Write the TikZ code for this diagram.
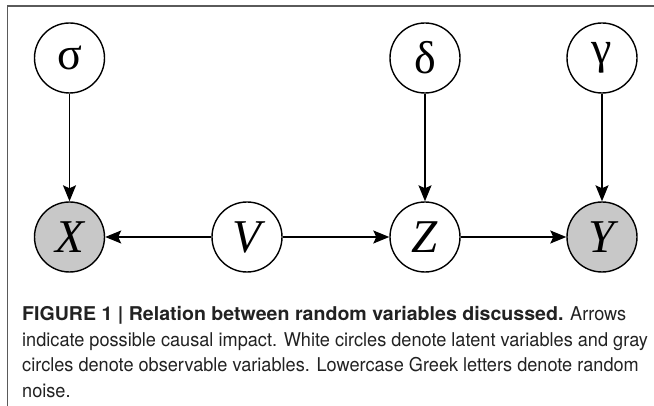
\documentclass[tikz,border=0pt]{standalone}
\usepackage{fontspec}
\setmainfont{Liberation Serif}
\newfontfamily\capfont[FakeStretch=0.955, BoldFeatures={FakeStretch=1.03}]{TeX Gyre Heros}
\usetikzlibrary{arrows.meta}
\definecolor{obsgray}{HTML}{C8C8C8}
\definecolor{framegray}{HTML}{5A5A5A}
\definecolor{captext}{HTML}{222222}
\tikzset{
  var/.style={circle, draw=black, line width=1.4pt, minimum size=70pt, inner sep=0pt, fill=white},
  obs/.style={var, fill=obsgray},
  latin/.style={font=\fontsize{47}{47}\selectfont\itshape},
  greek/.style={font=\fontsize{46}{46}\selectfont},
  edge/.style={line width=1.3pt, -{Stealth[length=16pt, width=13pt, inset=3pt]}},
  capline/.style={anchor=base west, inner sep=0pt, text=captext, font=\capfont\fontsize{19}{19}\selectfont}
}
\begin{document}
\begin{tikzpicture}[x=1pt, y=-1pt]
  \useasboundingbox (0,0) rectangle (654,406);
  % frame along top and left edge
  \coordinate (ftl) at (7.5,6);
  \coordinate (ftr) at (654,6);
  \coordinate (fbl) at (7.5,406);
  \draw[framegray, line width=1.2pt] (fbl) -- (ftl) -- (ftr);

  % noise variables
  \node[var, greek] (sigma) at (69.5,58) {σ};
  \node[var, greek] (delta) at (425,58) {δ};
  \node[var, greek] (gamma) at (602,58) {γ};

  % main variables
  \node[obs, latin] (X) at (69.5,237) {X};
  \node[var, latin] (V) at (247,237) {V};
  \node[var, latin] (Z) at (425,237) {Z};
  \node[obs, latin] (Y) at (602,237) {Y};

  % causal arrows
  \draw[edge] (sigma) -- (X);
  \draw[edge] (delta) -- (Z);
  \draw[edge] (gamma) -- (Y);
  \draw[edge] (V) -- (X);
  \draw[edge] (V) -- (Z);
  \draw[edge] (Z) -- (Y);

  % caption
  \node[capline] (cap1) at (22,321) {\textbf{FIGURE 1 | Relation between random variables discussed.} Arrows};
  \node[capline] (cap2) at (22,346.5) {indicate possible causal impact. White circles denote latent variables and gray};
  \node[capline] (cap3) at (22,372) {circles denote observable variables. Lowercase Greek letters denote random};
  \node[capline] (cap4) at (22,397.5) {noise.};
\end{tikzpicture}
\end{document}
